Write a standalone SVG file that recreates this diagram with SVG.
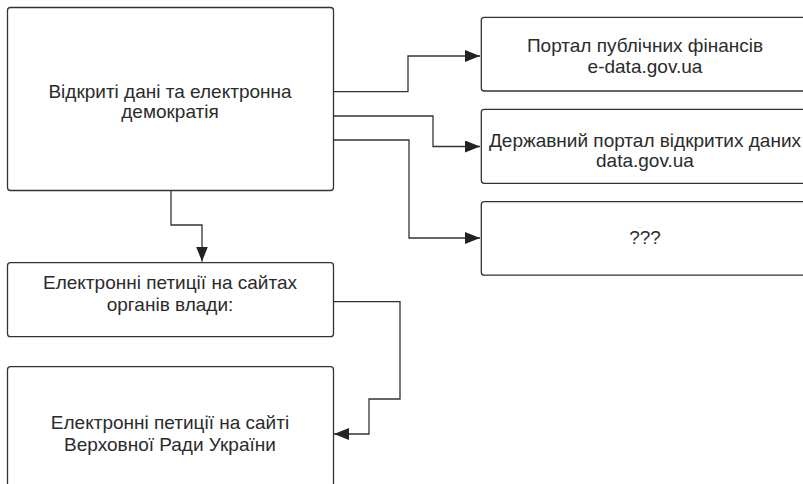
<svg xmlns="http://www.w3.org/2000/svg" width="803" height="484" viewBox="0 0 803 484">
<style>
.box{fill:#fff;stroke:#333;stroke-width:1.3}
.lbl{font-family:"Liberation Sans",Arial,sans-serif;font-size:19px;fill:#2b2b2b;text-anchor:middle}
.conn{fill:none;stroke:#333;stroke-width:1.3}
</style>
<defs>
<marker id="arr" markerUnits="userSpaceOnUse" markerWidth="16" markerHeight="12" refX="15" refY="6" orient="auto">
<path d="M0,0 L15,6 L0,12 z" fill="#222"/>
</marker>
</defs>
<rect width="803" height="484" fill="#fff"/>
<g id="connectors">
<path class="conn" d="M333,91.7 H408 V56 H480" marker-end="url(#arr)"/>
<path class="conn" d="M333,116 H433 V146.5 H480" marker-end="url(#arr)"/>
<path class="conn" d="M333,140 H409 V238 H480" marker-end="url(#arr)"/>
<path class="conn" d="M171,190.5 V225 H202 V261.5" marker-end="url(#arr)"/>
<path class="conn" d="M333,301.7 H400 V399 H369 V434 H334" marker-end="url(#arr)"/>
</g>
<g id="n-main">
<rect class="box" x="7.5" y="7.5" width="326" height="183" rx="3"/>
<text class="lbl" x="170" y="97.5">Відкриті дані та електронна</text>
<text class="lbl" x="170" y="118">демократія</text>
</g>
<g id="n-public-finance">
<rect class="box" x="481.3" y="17.3" width="330" height="73.7" rx="3"/>
<text class="lbl" x="645" y="52">Портал публічних фінансів</text>
<text class="lbl" x="645" y="72.5">e-data.gov.ua</text>
</g>
<g id="n-open-data">
<rect class="box" x="481.3" y="109.3" width="330" height="74" rx="3"/>
<text class="lbl" x="645" y="146.5">Державний портал відкритих даних</text>
<text class="lbl" x="645" y="167">data.gov.ua</text>
</g>
<g id="n-unknown">
<rect class="box" x="481.3" y="201.7" width="330" height="73.5" rx="3"/>
<text class="lbl" x="645" y="244">???</text>
</g>
<g id="n-petitions">
<rect class="box" x="7.5" y="262.7" width="326" height="74" rx="3"/>
<text class="lbl" x="170" y="289">Електронні петиції на сайтах</text>
<text class="lbl" x="170" y="310.5">органів влади:</text>
</g>
<g id="n-rada">
<rect class="box" x="7.5" y="366.7" width="326" height="140" rx="3"/>
<text class="lbl" x="170" y="429">Електронні петиції на сайті</text>
<text class="lbl" x="170" y="450.5">Верховної Ради України</text>
</g>
</svg>
